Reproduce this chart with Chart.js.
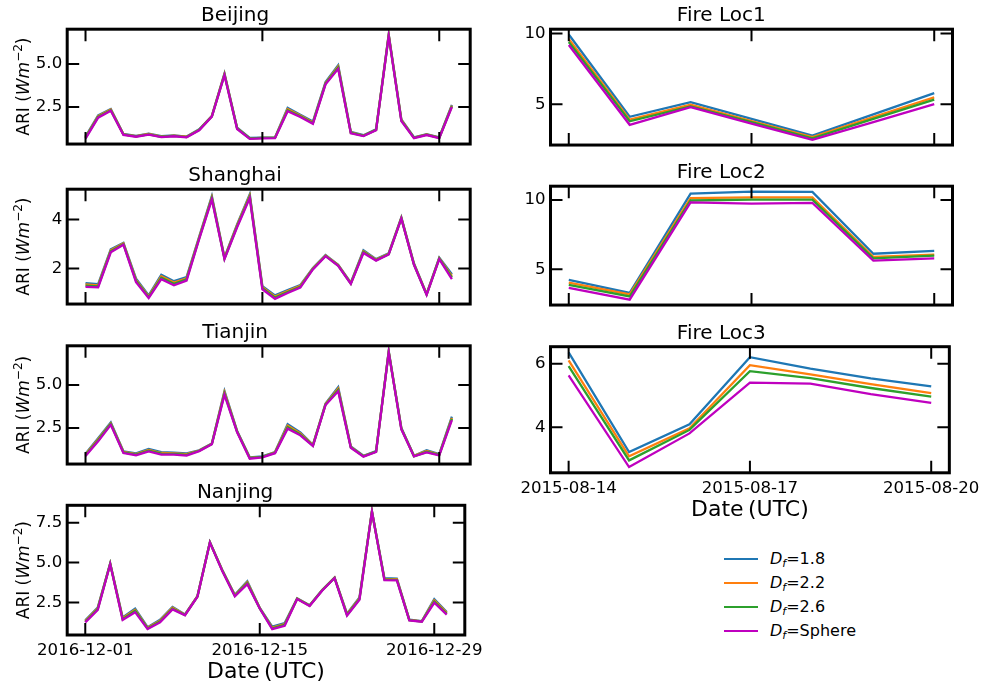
<!DOCTYPE html>
<html>
<head>
<meta charset="utf-8">
<script src="https://cdn.jsdelivr.net/npm/chart.js@4.4.1/dist/chart.umd.min.js"></script>
<style>
  html, body { margin: 0; padding: 0; background: #fff; }
  body { width: 987px; height: 687px; position: relative; overflow: hidden; font-family: "DejaVu Sans", sans-serif; }
  canvas { position: absolute; }
  #legend { position: absolute; left: 724px; top: 547.3px; font-size: 16px; color: #000; }
  .row { position: relative; height: 23.8px; }
  .row .ln { position: absolute; left: 0; top: 11px; width: 34px; height: 2px; }
  .row .tx { position: absolute; left: 46px; top: 0; line-height: 24px; white-space: nowrap; }
  .row sub { font-size: 11px; vertical-align: -3px; font-style: italic; }
</style>
</head>
<body>
<div id="legend"></div>
<script>
// dates
const cityDates = ['2016-12-01', '2016-12-02', '2016-12-03', '2016-12-04', '2016-12-05', '2016-12-06',
  '2016-12-07', '2016-12-08', '2016-12-09', '2016-12-10', '2016-12-11', '2016-12-12', '2016-12-13',
  '2016-12-14', '2016-12-15', '2016-12-16', '2016-12-17', '2016-12-18', '2016-12-19', '2016-12-20',
  '2016-12-21', '2016-12-22', '2016-12-23', '2016-12-24', '2016-12-25', '2016-12-26', '2016-12-27',
  '2016-12-28', '2016-12-29', '2016-12-30'];
const cityTicks = ['2016-12-01', '2016-12-15', '2016-12-29'];
const fireDates = ['2015-08-14', '2015-08-15', '2015-08-16', '2015-08-17', '2015-08-18', '2015-08-19', '2015-08-20'];
const fireTicks = ['2015-08-14', '2015-08-17', '2015-08-20'];

const seriesLabels = ['1.8', '2.2', '2.6', 'Sphere'];
const seriesColors = ['#1f77b4', '#ff7f0e', '#2ca02c', '#bf00bf'];

// ARI values (W m-2), one array per fractal dimension
const beijing18 = [0.78, 2.02, 2.38, 0.93, 0.82, 0.95, 0.80, 0.85, 0.78, 1.20, 1.98, 4.45, 1.30, 0.70, 0.72, 0.73, 2.45, 2.05, 1.65, 3.95, 4.92, 1.05, 0.86, 1.20, 6.72, 1.78, 0.74, 0.92, 0.74, 2.62];
const beijing22 = [0.74, 1.97, 2.35, 0.91, 0.80, 0.93, 0.78, 0.83, 0.77, 1.18, 1.97, 4.42, 1.27, 0.68, 0.71, 0.72, 2.38, 2.00, 1.60, 3.90, 4.85, 1.02, 0.84, 1.18, 6.69, 1.75, 0.72, 0.90, 0.72, 2.58];
const beijing26 = [0.70, 1.93, 2.31, 0.90, 0.79, 0.91, 0.77, 0.82, 0.75, 1.17, 1.95, 4.38, 1.25, 0.67, 0.70, 0.70, 2.31, 1.96, 1.56, 3.86, 4.78, 1.00, 0.83, 1.17, 6.65, 1.71, 0.71, 0.89, 0.71, 2.54];
const beijingSph = [0.66, 1.88, 2.28, 0.88, 0.77, 0.89, 0.75, 0.80, 0.74, 1.15, 1.94, 4.35, 1.22, 0.65, 0.68, 0.69, 2.25, 1.92, 1.52, 3.82, 4.72, 0.97, 0.81, 1.15, 6.62, 1.68, 0.69, 0.87, 0.69, 2.50];

const shanghai18 = [1.40, 1.36, 2.78, 3.04, 1.58, 0.90, 1.74, 1.48, 1.65, 3.30, 4.95, 2.45, 3.80, 5.02, 1.28, 0.90, 1.12, 1.32, 2.02, 2.55, 2.15, 1.42, 2.74, 2.38, 2.62, 4.08, 2.20, 0.96, 2.44, 1.76];
const shanghai22 = [1.35, 1.31, 2.74, 3.02, 1.53, 0.86, 1.68, 1.42, 1.60, 3.27, 4.90, 2.43, 3.76, 4.97, 1.24, 0.85, 1.08, 1.29, 2.00, 2.53, 2.14, 1.40, 2.70, 2.36, 2.60, 4.06, 2.18, 0.95, 2.42, 1.69];
const shanghai26 = [1.30, 1.27, 2.70, 2.99, 1.49, 0.83, 1.62, 1.37, 1.55, 3.23, 4.86, 2.40, 3.72, 4.92, 1.19, 0.81, 1.04, 1.25, 1.98, 2.51, 2.12, 1.38, 2.67, 2.34, 2.58, 4.04, 2.16, 0.93, 2.40, 1.63];
const shanghaiSph = [1.25, 1.23, 2.66, 2.97, 1.44, 0.79, 1.56, 1.31, 1.50, 3.20, 4.81, 2.38, 3.68, 4.87, 1.15, 0.76, 1.00, 1.22, 1.96, 2.50, 2.11, 1.37, 2.63, 2.32, 2.57, 4.03, 2.15, 0.92, 2.38, 1.56];

const tianjin18 = [1.00, 1.90, 2.82, 1.14, 1.02, 1.27, 1.09, 1.06, 1.02, 1.20, 1.60, 4.65, 2.33, 0.79, 0.84, 1.10, 2.72, 2.24, 1.52, 3.92, 4.88, 1.42, 0.88, 1.15, 6.98, 2.50, 0.88, 1.20, 0.98, 3.16];
const tianjin22 = [0.95, 1.84, 2.77, 1.11, 0.98, 1.22, 1.04, 1.02, 0.98, 1.18, 1.58, 4.58, 2.30, 0.76, 0.82, 1.08, 2.63, 2.18, 1.50, 3.89, 4.80, 1.40, 0.86, 1.13, 6.95, 2.47, 0.87, 1.16, 0.95, 3.09];
const tianjin26 = [0.91, 1.78, 2.73, 1.07, 0.95, 1.18, 1.00, 0.99, 0.93, 1.17, 1.57, 4.50, 2.28, 0.74, 0.81, 1.05, 2.55, 2.13, 1.47, 3.87, 4.72, 1.37, 0.85, 1.12, 6.93, 2.45, 0.85, 1.11, 0.93, 3.03];
const tianjinSph = [0.86, 1.72, 2.68, 1.04, 0.91, 1.13, 0.95, 0.95, 0.89, 1.15, 1.55, 4.43, 2.25, 0.71, 0.79, 1.03, 2.46, 2.07, 1.45, 3.84, 4.64, 1.35, 0.83, 1.10, 6.90, 2.42, 0.84, 1.07, 0.90, 2.96];

const nanjing18 = [1.38, 2.18, 4.95, 1.56, 2.12, 0.95, 1.42, 2.22, 1.75, 2.90, 6.28, 4.52, 2.98, 3.82, 2.16, 0.98, 1.21, 2.76, 2.33, 3.28, 4.06, 1.80, 2.82, 8.22, 4.02, 4.00, 1.42, 1.33, 2.70, 1.90];
const nanjing22 = [1.34, 2.13, 4.93, 1.51, 2.04, 0.91, 1.36, 2.17, 1.73, 2.89, 6.27, 4.50, 2.95, 3.76, 2.15, 0.93, 1.15, 2.74, 2.31, 3.27, 4.05, 1.76, 2.77, 8.20, 3.98, 3.96, 1.41, 1.32, 2.63, 1.85];
const nanjing26 = [1.29, 2.08, 4.92, 1.45, 1.97, 0.87, 1.31, 2.11, 1.72, 2.87, 6.26, 4.48, 2.91, 3.70, 2.13, 0.88, 1.10, 2.73, 2.30, 3.25, 4.04, 1.71, 2.72, 8.19, 3.94, 3.92, 1.39, 1.30, 2.55, 1.79];
const nanjingSph = [1.25, 2.03, 4.90, 1.40, 1.89, 0.83, 1.25, 2.06, 1.70, 2.86, 6.25, 4.46, 2.88, 3.64, 2.12, 0.83, 1.04, 2.71, 2.28, 3.24, 4.03, 1.67, 2.67, 8.18, 3.90, 3.88, 1.38, 1.29, 2.48, 1.74];

const fire1_18 = [9.94, 4.11, 5.15, 3.96, 2.78, 4.28, 5.78];
const fire1_22 = [9.62, 3.90, 4.96, 3.81, 2.67, 4.09, 5.49];
const fire1_26 = [9.41, 3.79, 4.85, 3.73, 2.58, 3.96, 5.32];
const fire1_Sph = [9.19, 3.54, 4.79, 3.62, 2.48, 3.73, 5.00];

const fire2_18 = [4.24, 3.30, 10.45, 10.60, 10.58, 6.12, 6.32];
const fire2_22 = [4.04, 3.19, 10.13, 10.18, 10.18, 5.89, 6.05];
const fire2_26 = [3.88, 3.04, 9.96, 10.02, 10.02, 5.78, 5.98];
const fire2_Sph = [3.66, 2.81, 9.82, 9.73, 9.78, 5.62, 5.78];

const fire3_18 = [6.36, 3.22, 4.10, 6.21, 5.85, 5.54, 5.29];
const fire3_22 = [6.11, 3.09, 3.97, 5.96, 5.67, 5.36, 5.08];
const fire3_26 = [5.93, 2.96, 3.92, 5.77, 5.55, 5.24, 4.97];
const fire3_Sph = [5.64, 2.75, 3.81, 5.41, 5.38, 5.05, 4.77];

// tick values on the y axes
const beijingYTicks = [2.5, 5.0];
const shanghaiYTicks = [2, 4];
const tianjinYTicks = [2.5, 5.0];
const nanjingYTicks = [2.5, 5.0, 7.5];
const fire1YTicks = [5, 10];
const fire2YTicks = [5, 10];
const fire3YTicks = [4, 6];

const FONT = '"DejaVu Sans", sans-serif';
Chart.defaults.font.family = FONT;
Chart.defaults.color = '#000';

function drawYLabel(ctx, bx, cy) {
  const parts = [
    { t: 'ARI (', f: '17px ' + FONT, dy: 0 },
    { t: 'Wm', f: 'italic 17px ' + FONT, dy: 0 },
    { t: '\u22122', f: '12px ' + FONT, dy: -7 },
    { t: ')', f: '17px ' + FONT, dy: 0 }
  ];
  ctx.save();
  ctx.translate(bx, cy);
  ctx.rotate(-Math.PI / 2);
  ctx.fillStyle = '#000';
  ctx.textBaseline = 'alphabetic';
  ctx.textAlign = 'left';
  let total = 0;
  parts.forEach(p => { ctx.font = p.f; p.w = ctx.measureText(p.t).width; total += p.w; });
  let xx = -total / 2;
  parts.forEach(p => { ctx.font = p.f; ctx.fillText(p.t, xx, p.dy); xx += p.w; });
  ctx.restore();
}

// thick box, inward ticks on all four sides
const framePlugin = {
  id: 'frame',
  afterDraw(chart, args, opts) {
    const { ctx, chartArea: a } = chart;
    const x = chart.scales.x, y = chart.scales.y;
    ctx.save();
    ctx.strokeStyle = '#000';
    ctx.lineWidth = 2;
    ctx.beginPath();
    x.ticks.forEach(t => {
      const px = x.getPixelForValue(t.value);
      ctx.moveTo(px, a.bottom); ctx.lineTo(px, a.bottom - 12);
      ctx.moveTo(px, a.top); ctx.lineTo(px, a.top + 12);
    });
    y.ticks.forEach(t => {
      const py = y.getPixelForValue(t.value);
      ctx.moveTo(a.left, py); ctx.lineTo(a.left + 12, py);
      ctx.moveTo(a.right, py); ctx.lineTo(a.right - 12, py);
    });
    ctx.stroke();
    ctx.lineWidth = 3;
    ctx.strokeRect(a.left, a.top, a.right - a.left, a.bottom - a.top);
    ctx.restore();
    if (opts.yLabel) drawYLabel(ctx, 29.3, (a.top + a.bottom) / 2);
  }
};

function makePanel(p) {
  const canvas = document.createElement('canvas');
  const top = Math.floor(p.box.t) - 30;
  const titleH = p.box.t - top;
  const bottomSpace = p.showX ? 52 : 4;
  const height = Math.ceil(p.box.b + bottomSpace - top);
  canvas.width = p.cw;
  canvas.height = height;
  canvas.style.left = p.cl + 'px';
  canvas.style.top = top + 'px';
  canvas.style.width = p.cw + 'px';
  canvas.style.height = height + 'px';
  document.body.appendChild(canvas);

  const xHeight = height - titleH - (p.box.b - p.box.t);
  const all = p.series.flat();
  const lo = Math.min(...all), hi = Math.max(...all), m = (hi - lo) * 0.05;
  const n = p.dates.length - 1;

  new Chart(canvas, {
    type: 'line',
    data: {
      datasets: p.series.map((vals, k) => ({
        label: 'Df=' + seriesLabels[k],
        data: vals.map((v, i) => ({ x: i, y: v })),
        borderColor: seriesColors[k],
        borderWidth: 2.3,
        pointRadius: 0,
        tension: 0,
        fill: false,
        order: 3 - k
      }))
    },
    options: {
      responsive: false,
      animation: false,
      events: [],
      layout: { padding: { left: 0, right: p.cw - (p.box.r - p.cl), top: 0, bottom: 0 } },
      plugins: {
        legend: { display: false },
        tooltip: { enabled: false },
        title: {
          display: true, text: p.title, color: '#000',
          font: { family: FONT, size: 20, weight: 'normal' },
          padding: { top: titleH - 25, bottom: 1 }
        },
        frame: { yLabel: p.yLabel }
      },
      scales: {
        x: {
          type: 'linear', min: -n * 0.05, max: n * 1.05,
          grid: { display: false, drawTicks: false },
          border: { display: false },
          afterBuildTicks: s => { s.ticks = p.ticks.map(d => ({ value: p.dates.indexOf(d) })); },
          afterFit: s => { s.height = xHeight; },
          ticks: {
            display: p.showX, autoSkip: false, maxRotation: 0, minRotation: 0, padding: 6,
            color: '#000', font: { family: FONT, size: 16.6 },
            callback: v => p.dates[v]
          },
          title: {
            display: p.showX, text: 'Date\u2009(UTC)', color: '#000',
            font: { family: FONT, size: 22 }, padding: { top: 0, bottom: 1.8 }
          }
        },
        y: {
          type: 'linear', min: lo - m, max: hi + m,
          grid: { display: false, drawTicks: false },
          border: { display: false },
          afterBuildTicks: s => { s.ticks = p.yTicks.map(v => ({ value: v })); },
          afterFit: s => { s.width = p.box.l - p.cl; },
          ticks: {
            padding: 5, color: '#000', font: { family: FONT, size: 16.6 },
            callback: v => v.toFixed(p.dec)
          }
        }
      }
    },
    plugins: [framePlugin]
  });
}

const leftCanvas = { cl: 0, cw: 490 };
const rightCanvas = { cl: 490, cw: 497 };

makePanel({ ...leftCanvas, title: 'Beijing', dates: cityDates, ticks: cityTicks, yTicks: beijingYTicks, dec: 1,
  series: [beijing18, beijing22, beijing26, beijingSph], box: { l: 67.2, r: 470.2, t: 29.2, b: 155 }, showX: false, yLabel: true });
makePanel({ ...leftCanvas, title: 'Shanghai', dates: cityDates, ticks: cityTicks, yTicks: shanghaiYTicks, dec: 0,
  series: [shanghai18, shanghai22, shanghai26, shanghaiSph], box: { l: 67.2, r: 470.2, t: 189.2, b: 315 }, showX: false, yLabel: true });
makePanel({ ...leftCanvas, title: 'Tianjin', dates: cityDates, ticks: cityTicks, yTicks: tianjinYTicks, dec: 1,
  series: [tianjin18, tianjin22, tianjin26, tianjinSph], box: { l: 67.2, r: 470.2, t: 345.8, b: 474.2 }, showX: false, yLabel: true });
makePanel({ ...leftCanvas, title: 'Nanjing', dates: cityDates, ticks: cityTicks, yTicks: nanjingYTicks, dec: 1,
  series: [nanjing18, nanjing22, nanjing26, nanjingSph], box: { l: 67.2, r: 470.2, t: 505.3, b: 635 }, showX: true, yLabel: true });

makePanel({ ...rightCanvas, title: 'Fire Loc1', dates: fireDates, ticks: fireTicks, yTicks: fire1YTicks, dec: 0,
  series: [fire1_18, fire1_22, fire1_26, fire1_Sph], box: { l: 550.5, r: 952.5, t: 29.2, b: 155.7 }, showX: false, yLabel: false });
makePanel({ ...rightCanvas, title: 'Fire Loc2', dates: fireDates, ticks: fireTicks, yTicks: fire2YTicks, dec: 0,
  series: [fire2_18, fire2_22, fire2_26, fire2_Sph], box: { l: 550.5, r: 952.5, t: 186.2, b: 315.7 }, showX: false, yLabel: false });
makePanel({ ...rightCanvas, title: 'Fire Loc3', dates: fireDates, ticks: fireTicks, yTicks: fire3YTicks, dec: 0,
  series: [fire3_18, fire3_22, fire3_26, fire3_Sph], box: { l: 550.5, r: 952.5, t: 346.7, b: 472.8 }, showX: true, yLabel: false });

// legend
const legend = document.getElementById('legend');
seriesLabels.forEach((lab, k) => {
  const row = document.createElement('div');
  row.className = 'row';
  row.innerHTML = '<div class="ln" style="background:' + seriesColors[k] + '"></div>' +
    '<div class="tx"><i>D</i><sub>f</sub>=' + lab + '</div>';
  legend.appendChild(row);
});
</script>
</body>
</html>
